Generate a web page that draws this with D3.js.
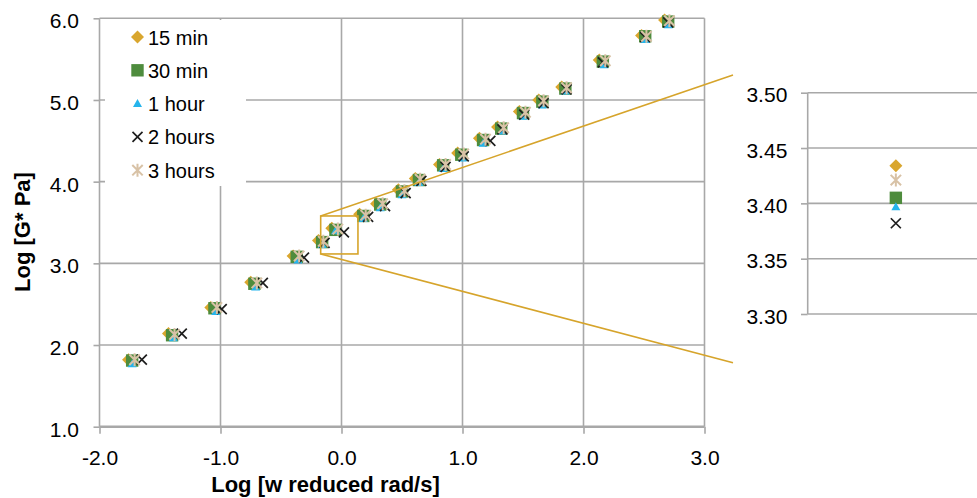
<!DOCTYPE html>
<html><head><meta charset="utf-8">
<script src="https://cdn.jsdelivr.net/npm/d3@7"></script>
<style>
body{margin:0;background:#fff;overflow:hidden}
svg{display:block}
text{font-family:"Liberation Sans",Arial,Helvetica,sans-serif;fill:#000}
</style>
</head><body><svg id="c" width="977" height="498"></svg>
<script>
// ---- data ----
const seriesNames = ["15 min","30 min","1 hour","2 hours","3 hours"];
const x15 = [-1.76,-1.43,-1.08,-0.75,-0.40,-0.19,-0.08,0.15,0.29,0.47,0.61,0.81,0.96,1.14,1.29,1.47,1.63,1.82,2.13,2.48,2.67];
const y15 = [1.82,2.14,2.46,2.77,3.09,3.28,3.43,3.60,3.73,3.90,4.04,4.21,4.35,4.53,4.67,4.86,5.00,5.16,5.49,5.79,5.98];
const x30 = [-1.73,-1.40,-1.05,-0.72,-0.37,-0.16,-0.05,0.18,0.32,0.50,0.64,0.84,0.99,1.17,1.32,1.50,1.66,1.85,2.16,2.51,2.70];
const y30 = [1.81,2.12,2.45,2.75,3.08,3.26,3.41,3.58,3.72,3.88,4.02,4.20,4.33,4.51,4.65,4.84,4.98,5.14,5.47,5.78,5.96];
const x1h = [-1.73,-1.39,-1.04,-0.71,-0.36,-0.16,-0.05,0.18,0.32,0.50,0.64,0.84,1.00,1.17,1.33,1.50,1.66,1.85,2.17,2.51,2.70];
const y1h = [1.77,2.09,2.41,2.71,3.04,3.23,3.40,3.55,3.68,3.84,3.99,4.16,4.29,4.47,4.62,4.80,4.94,5.11,5.43,5.74,5.92];
const x2h = [-1.65,-1.32,-0.99,-0.65,-0.31,-0.14,0.02,0.22,0.36,0.53,0.66,0.86,1.01,1.23,1.33,1.51,1.67,1.86,2.16,2.51,2.70];
const y2h = [1.82,2.14,2.44,2.76,3.07,3.25,3.38,3.57,3.70,3.86,4.01,4.18,4.31,4.50,4.64,4.82,4.96,5.13,5.46,5.77,5.95];
const x3h = [-1.71,-1.38,-1.03,-0.70,-0.35,-0.15,-0.03,0.20,0.34,0.52,0.65,0.86,1.01,1.19,1.34,1.52,1.67,1.86,2.18,2.52,2.71];
const y3h = [1.82,2.13,2.46,2.76,3.09,3.27,3.42,3.59,3.73,3.89,4.03,4.21,4.34,4.52,4.66,4.85,4.99,5.15,5.48,5.78,5.97];
const xTicks = [-2,-1,0,1,2,3];
const yTicks = [1,2,3,4,5,6];
const insetTicks = [3.30,3.35,3.40,3.45,3.50];
const insetValues = [3.434,3.405,3.397,3.382,3.421]; // 15 min, 30 min, 1 hour, 2 hours, 3 hours
const zoomBoxX = [-0.172,0.136];
const zoomBoxY = [3.115,3.580];
const connectorInsetY = [3.516,3.256];
const xTitle = "Log [w reduced rad/s]";
const yTitle = "Log [G* Pa]";

// ---- style ----
const colors = ["#D9A62E","#4E8C3D","#25B4EC","#1E1E1E","#D8C2A6"];
const shapes = ["diamond","square","triangle","x","asterisk"];
const gridColor = "#A8A8A8";
const gold = "#D6A42B";

const svg = d3.select("#c");
const x = d3.scaleLinear().domain([-2,3]).range([99.5,704.5]);
const y = d3.scaleLinear().domain([1,6]).range([426.7,18.3]);
const yi = d3.scaleLinear().domain([3.30,3.50]).range([314,92.7]);
const xi = d3.scalePoint().domain(["a"]).range([807.7,984]).padding(0.5);

function drawMarker(g, shape, color){
  if(shape==="diamond") g.append("path").attr("d","M0,-6.5L6.5,0L0,6.5L-6.5,0Z").attr("fill",color);
  else if(shape==="square") g.append("rect").attr("x",-6.2).attr("y",-6.2).attr("width",12.4).attr("height",12.4).attr("fill",color);
  else if(shape==="triangle") g.append("path").attr("d","M0,-4.5L4.5,3.5L-4.5,3.5Z").attr("fill",color);
  else if(shape==="x") g.append("path").attr("d","M-5,-5L5,5M-5,5L5,-5").attr("stroke",color).attr("stroke-width",1.7).attr("fill","none");
  else g.append("path").attr("d","M-5.2,-5.2L5.2,5.2M-5.2,5.2L5.2,-5.2M0,-6.5L0,6.5").attr("stroke",color).attr("stroke-width",2).attr("fill","none");
}

// ---- main gridlines ----
const grid = svg.append("g");
grid.selectAll("line.v").data(xTicks.slice(1)).join("line")
  .attr("x1",d=>x(d)).attr("x2",d=>x(d)).attr("y1",y(6)).attr("y2",y(1))
  .attr("stroke",gridColor).attr("stroke-width",1.6);
grid.selectAll("line.h").data(yTicks.slice(1)).join("line")
  .attr("x1",x(-2)).attr("x2",x(3)).attr("y1",d=>y(d)).attr("y2",d=>y(d))
  .attr("stroke",gridColor).attr("stroke-width",1.6);
grid.append("line").attr("x1",x(-2)).attr("x2",x(-2)).attr("y1",y(6)).attr("y2",y(1))
  .attr("stroke",gridColor).attr("stroke-width",1.6);

// axes (ticks + labels)
const yAx = svg.append("g").attr("transform",`translate(${x(-2)},0)`)
  .call(d3.axisLeft(y).tickValues(yTicks).tickSize(6).tickPadding(14.5).tickFormat(d=>d.toFixed(1)));
const xAx = svg.append("g").attr("transform",`translate(0,${y(1)})`)
  .call(d3.axisBottom(x).tickValues(xTicks).tickSize(7).tickPadding(16).tickFormat(d=>d.toFixed(1)));
[yAx,xAx].forEach(a=>{
  a.select(".domain").remove();
  a.selectAll(".tick line").attr("stroke",gridColor).attr("stroke-width",1.6);
  a.selectAll("text").attr("font-size",21).attr("font-family","Liberation Sans, Arial, sans-serif").attr("fill","#000");
});
yAx.selectAll("text").attr("dy","0.45em");
svg.append("line").attr("x1",x(-2)).attr("x2",x(3)).attr("y1",y(1)).attr("y2",y(1))
  .attr("stroke",gridColor).attr("stroke-width",2.6);

// ---- data points ----
const seriesX = [x15,x30,x1h,x2h,x3h];
const seriesY = [y15,y30,y1h,y2h,y3h];
seriesNames.forEach((name,i)=>{
  const pts = seriesX[i].map((v,j)=>({x:v,y:seriesY[i][j]}));
  svg.append("g").selectAll("g").data(pts).join("g")
    .attr("transform",d=>`translate(${x(d.x)},${y(d.y)})`)
    .each(function(){ drawMarker(d3.select(this), shapes[i], colors[i]); });
});

// ---- legend ----
const leg = svg.append("g");
leg.append("rect").attr("x",105).attr("y",20).attr("width",141).attr("height",166).attr("fill","#fff");
seriesNames.forEach((name,i)=>{
  const gy = 37 + i*33.3;
  const m = leg.append("g").attr("transform",`translate(137.5,${gy})`);
  drawMarker(m, shapes[i], colors[i]);
  leg.append("text").attr("x",148).attr("y",gy+7.5).attr("font-size",20).text(name);
});

// ---- axis titles ----
svg.append("text").attr("transform","translate(29.5,232) rotate(-90)").attr("text-anchor","middle")
  .attr("font-size",22).attr("font-weight","bold").text(yTitle);
svg.append("text").attr("x",325.5).attr("y",492).attr("text-anchor","middle")
  .attr("font-size",22).attr("font-weight","bold").text(xTitle);

// ---- inset ----
const inset = svg.append("g");
inset.selectAll("line.ih").data(insetTicks).join("line")
  .attr("x1",xi.range()[0]).attr("x2",xi.range()[1]).attr("y1",d=>yi(d)).attr("y2",d=>yi(d))
  .attr("stroke",gridColor).attr("stroke-width",1.6);
inset.append("line").attr("x1",xi.range()[0]).attr("x2",xi.range()[0]).attr("y1",yi(3.50)).attr("y2",yi(3.30))
  .attr("stroke",gridColor).attr("stroke-width",1.6);
const iAx = svg.append("g").attr("transform",`translate(${xi.range()[0]},0)`)
  .call(d3.axisLeft(yi).tickValues(insetTicks).tickSize(6.7).tickPadding(13.7).tickFormat(d=>d.toFixed(2)));
iAx.select(".domain").remove();
iAx.selectAll(".tick line").attr("stroke",gridColor).attr("stroke-width",1.6);
iAx.selectAll("text").attr("font-size",21).attr("font-family","Liberation Sans, Arial, sans-serif").attr("fill","#000").attr("dy","0.43em");
insetValues.forEach((v,i)=>{
  const m = inset.append("g").attr("transform",`translate(${xi("a")},${yi(v)})`);
  drawMarker(m, shapes[i], colors[i]);
});

// ---- zoom box and connectors ----
svg.append("rect").attr("x",x(zoomBoxX[0])).attr("y",y(zoomBoxY[1]))
  .attr("width",x(zoomBoxX[1])-x(zoomBoxX[0])).attr("height",y(zoomBoxY[0])-y(zoomBoxY[1]))
  .attr("fill","none").attr("stroke",gold).attr("stroke-width",1.6);
svg.append("line").attr("x1",x(zoomBoxX[0])).attr("y1",y(zoomBoxY[1])).attr("x2",733).attr("y2",yi(connectorInsetY[0]))
  .attr("stroke",gold).attr("stroke-width",1.6);
svg.append("line").attr("x1",x(zoomBoxX[0])).attr("y1",y(zoomBoxY[0])).attr("x2",733).attr("y2",yi(connectorInsetY[1]))
  .attr("stroke",gold).attr("stroke-width",1.6);
</script>
</body></html>
